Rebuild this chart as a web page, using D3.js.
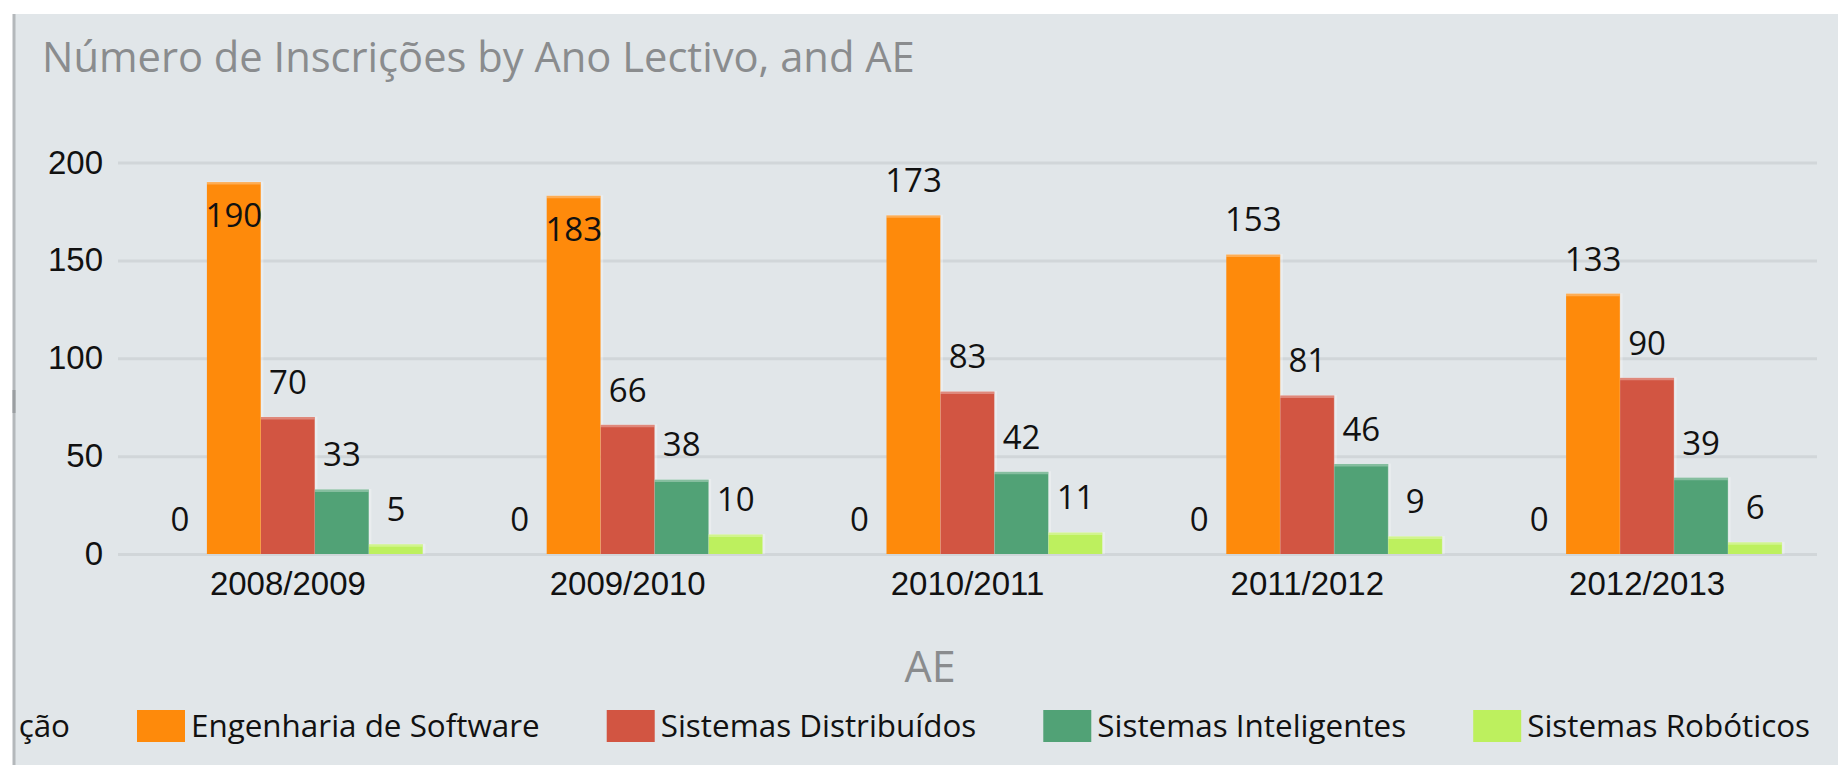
<!DOCTYPE html>
<html>
<head>
<meta charset="utf-8">
<script src="https://cdnjs.cloudflare.com/ajax/libs/d3/7.8.5/d3.min.js"></script>
<style>
  html, body { margin: 0; padding: 0; background: #fff; }
  svg { display: block; font-family: "Open Sans", "Noto Sans", sans-serif; }
</style>
</head>
<body>
<svg id="chart" width="1838" height="765"></svg>
<script>
// chart data
var categories = ["2008/2009", "2009/2010", "2010/2011", "2011/2012", "2012/2013"];
var seriesNames = ["Sem Especialização", "Engenharia de Software", "Sistemas Distribuídos", "Sistemas Inteligentes", "Sistemas Robóticos"];
var semEspecializacao = [0, 0, 0, 0, 0];
var engSoftware = [190, 183, 173, 153, 133];
var sisDistribuidos = [70, 66, 83, 81, 90];
var sisInteligentes = [33, 38, 42, 46, 39];
var sisRoboticos = [5, 10, 11, 9, 6];
var yTicks = [0, 50, 100, 150, 200];
var colors = ["#9aa4ad", "#fe8a0b", "#d25542", "#51a276", "#bdf05e"];

var seriesValues = [semEspecializacao, engSoftware, sisDistribuidos, sisInteligentes, sisRoboticos];

var W = 1838, H = 765;
var svg = d3.select("#chart");

// panel
svg.append("rect").attr("x", 14).attr("y", 14).attr("width", W - 14).attr("height", H - 14).attr("fill", "#e1e6e9");
svg.append("line").attr("x1", 14).attr("x2", 14).attr("y1", 14).attr("y2", H)
    .attr("stroke", "#b4b8bb").attr("stroke-width", 3);
svg.append("line").attr("x1", 14).attr("x2", 14).attr("y1", 390).attr("y2", 413)
    .attr("stroke", "#9a9ea1").attr("stroke-width", 3);

// title, fit to the width seen in the picture
var title = svg.append("text")
    .attr("x", 42).attr("y", 72)
    .attr("fill", "#8a8c8e")
    .style("font-size", "40px")
    .text("Número de Inscrições by Ano Lectivo, and AE");
var tw = title.node().getComputedTextLength();
title.style("font-size", (40 * 873 / tw) + "px");

var x0 = d3.scaleBand().domain(categories).range([118, 1817]).paddingInner(0.2054).paddingOuter(0.1027);
var x1 = d3.scaleBand().domain(d3.range(seriesNames.length)).range([0, x0.bandwidth()]);
var y = d3.scaleLinear().domain([0, 200]).range([554, 162.5]);

// grid
var yAxis = d3.axisLeft(y).tickValues(yTicks).tickSize(-(1817 - 118)).tickPadding(15);
var gy = svg.append("g").attr("transform", "translate(118,0)").call(yAxis);
gy.select(".domain").remove();
gy.selectAll(".tick line").attr("stroke", "#d1d6d9").attr("stroke-width", 3);
gy.selectAll(".tick text").attr("fill", "#111").style("font-size", "33px").attr("font-family", null);

// x axis labels
var xAxis = d3.axisBottom(x0).tickSize(0).tickPadding(18);
var gx = svg.append("g").attr("transform", "translate(0,554)").call(xAxis);
gx.select(".domain").remove();
gx.selectAll(".tick text").attr("fill", "#111").style("font-size", "33px").attr("font-family", null);

// bars
var rows = [];
categories.forEach(function(c, ci) {
    seriesValues.forEach(function(vals, si) {
        rows.push({cat: c, s: si, v: vals[ci]});
    });
});

var bars = svg.append("g").selectAll("g.bar").data(rows).enter().append("g").attr("class", "bar");
bars.append("rect")
    .attr("x", function(d) { return x0(d.cat) + x1(d.s); })
    .attr("y", function(d) { return y(d.v); })
    .attr("width", x1.bandwidth())
    .attr("height", function(d) { return y(0) - y(d.v); })
    .attr("fill", function(d) { return colors[d.s]; });
// light edge on top and right side of each bar
bars.filter(function(d) { return d.v > 0; }).append("path")
    .attr("d", function(d) {
        var bx = x0(d.cat) + x1(d.s), by = y(d.v);
        return "M" + bx + "," + (by + 1) + "H" + (bx + x1.bandwidth() + 1) + "V" + y(0);
    })
    .attr("fill", "none").attr("stroke", "#ffffff").attr("stroke-opacity", 0.3).attr("stroke-width", 3);

// value labels
bars.append("text")
    .attr("x", function(d) { return x0(d.cat) + x1(d.s) + x1.bandwidth() / 2; })
    .attr("y", function(d) {
        var top = y(d.v);
        return (top - 35 < 168) ? top + 33 : top - 35;
    })
    .attr("dy", "0.36em")
    .attr("text-anchor", "middle")
    .attr("fill", "#111")
    .style("font-size", "33px")
    .text(function(d) { return d.v; });

// axis title
svg.append("text")
    .attr("x", 930).attr("y", 682)
    .attr("text-anchor", "middle")
    .attr("fill", "#8a8c8e")
    .style("font-size", "43px")
    .text("AE");

// legend (scrolled: only the tail of the first item shows)
var leg = svg.append("g");
var lx = 70;
seriesNames.forEach(function(name, i) {
    if (i === 0) {
        leg.append("text").attr("x", lx).attr("y", 726).attr("dy", "0.36em")
            .attr("text-anchor", "end").attr("fill", "#111").style("font-size", "31.4px").text("ção");
        return;
    }
    lx += 67;
    leg.append("rect").attr("x", lx).attr("y", 710).attr("width", 48).attr("height", 32)
        .attr("fill", colors[i]);
    var t = leg.append("text").attr("x", lx + 54).attr("y", 726).attr("dy", "0.36em")
        .attr("fill", "#111").style("font-size", "31.4px").text(name);
    lx = lx + 54 + t.node().getComputedTextLength();
});
</script>
</body>
</html>
